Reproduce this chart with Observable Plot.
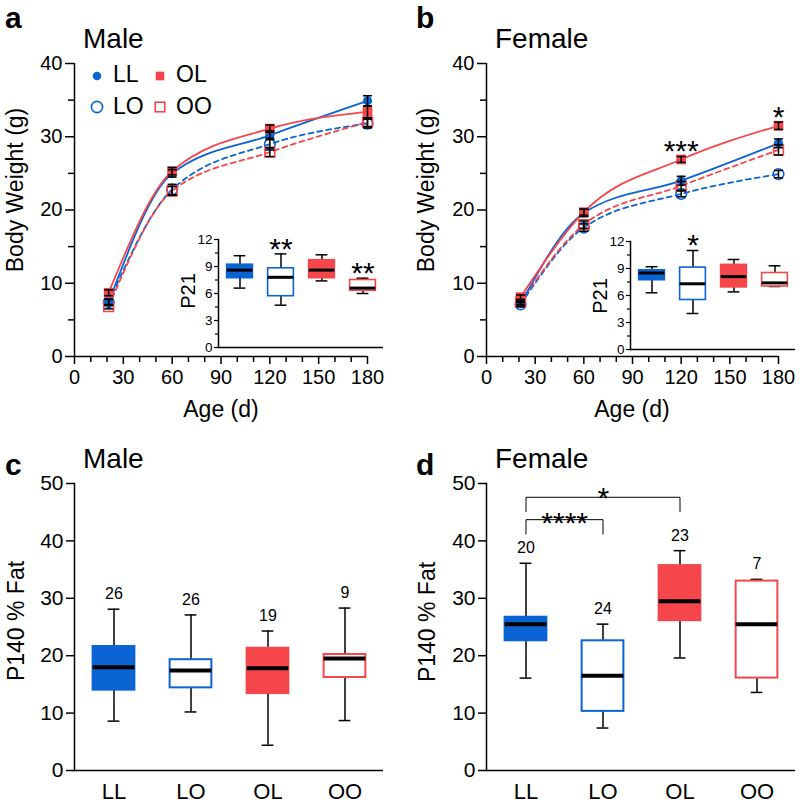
<!DOCTYPE html>
<html><head><meta charset="utf-8">
<script src="https://cdn.jsdelivr.net/npm/d3@7"></script>
<script src="https://cdn.jsdelivr.net/npm/@observablehq/plot@0.6"></script>
<style>
body{margin:0;background:#fff;}
#root{position:relative;width:800px;height:803px;overflow:hidden;font-family:"Liberation Sans",Arial,Helvetica,sans-serif;}
.pane{position:absolute;}
.pane svg{overflow:visible;}
</style></head><body><div id="root"></div>
<script>
const BLUE = "#0b64d3", RED = "#f5474b";
const FONT = '"Liberation Sans", Arial, Helvetica, sans-serif';

// ---- shared categories ----
const groups = ["LL", "LO", "OL", "OO"];
const ages = [21, 60, 120, 180];

// ---- panel a: male body weight (g), mean and SEM ----
const maleLL = [7.4, 25.0, 30.2, 34.9];
const maleLO = [7.4, 22.8, 29.0, 31.8];
const maleOL = [8.7, 25.3, 31.1, 33.4];
const maleOO = [6.8, 22.6, 27.9, 32.0];
const maleLLsem = [0.4, 0.5, 0.6, 0.7];
const maleLOsem = [0.4, 0.7, 0.8, 0.6];
const maleOLsem = [0.4, 0.5, 0.5, 0.8];
const maleOOsem = [0.3, 0.6, 0.6, 0.6];

// ---- panel b: female body weight (g), mean and SEM ----
const femaleLL = [7.2, 19.6, 24.0, 29.1];
const femaleLO = [7.1, 17.6, 22.2, 24.9];
const femaleOL = [8.1, 19.7, 26.9, 31.5];
const femaleOO = [7.4, 18.0, 23.3, 28.2];
const femaleLLsem = [0.3, 0.5, 0.6, 0.6];
const femaleLOsem = [0.3, 0.5, 0.4, 0.5];
const femaleOLsem = [0.3, 0.4, 0.4, 0.5];
const femaleOOsem = [0.3, 0.5, 0.6, 0.7];

// significance stars on growth curves (age, label)
const maleGrowthStars = [];
const femaleGrowthStars = [{age: 120, label: "***"}, {age: 180, label: "*"}];

// ---- insets: P21 body weight box plots (whisker low, Q1, median, Q3, whisker high) ----
const p21MaleLow = [6.6, 4.7, 7.4, 6.0];
const p21MaleQ1 = [7.7, 5.7, 7.7, 6.3];
const p21MaleMed = [8.6, 7.8, 8.6, 6.6];
const p21MaleQ3 = [9.2, 8.8, 9.7, 7.5];
const p21MaleHigh = [10.2, 10.4, 10.3, 7.7];
const p21MaleStars = ["", "**", "", "**"];

const p21FemaleLow = [6.3, 4.0, 6.4, 7.0];
const p21FemaleQ1 = [7.7, 5.5, 6.9, 7.0];
const p21FemaleMed = [8.5, 7.3, 8.1, 7.4];
const p21FemaleQ3 = [8.8, 9.1, 9.4, 8.5];
const p21FemaleHigh = [9.2, 11.0, 10.0, 9.3];
const p21FemaleStars = ["", "*", "", ""];

// ---- panel c: male P140 % fat ----
const fatMaleLow = [8.6, 10.2, 4.4, 8.7];
const fatMaleQ1 = [14.0, 14.4, 13.4, 16.2];
const fatMaleMed = [18.0, 17.4, 17.8, 19.5];
const fatMaleQ3 = [21.6, 19.3, 21.3, 20.2];
const fatMaleHigh = [28.1, 27.1, 24.3, 28.3];
const fatMaleN = [26, 26, 19, 9];

// ---- panel d: female P140 % fat ----
const fatFemaleLow = [16.1, 7.4, 19.6, 13.6];
const fatFemaleQ1 = [22.6, 10.3, 26.1, 16.1];
const fatFemaleMed = [25.5, 16.5, 29.5, 25.5];
const fatFemaleQ3 = [26.7, 22.6, 35.7, 33.0];
const fatFemaleHigh = [36.1, 25.5, 38.3, 33.3];
const fatFemaleN = [20, 24, 23, 7];
const fatFemaleComparisons = [
  {from: "LL", to: "OL", level: 47.6, label: "*"},
  {from: "LL", to: "LO", level: 43.7, label: "****"}
];

// ---- styling per group ----
const gStyle = {
  LL: {color: BLUE, filled: true, symbol: "circle", dash: null},
  LO: {color: BLUE, filled: false, symbol: "circle", dash: "5,4"},
  OL: {color: RED, filled: true, symbol: "square", dash: null},
  OO: {color: RED, filled: false, symbol: "square", dash: "5,4"}
};

const capSymbol = {draw(ctx, size) { const w = Math.sqrt(size / Math.PI); ctx.moveTo(-w, 0); ctx.lineTo(w, 0); }};

function growthRows(means, sems) {
  const rows = [];
  for (const g of groups) ages.forEach((a, i) => rows.push({group: g, age: a, mean: means[g][i], sem: sems[g][i]}));
  return rows;
}
function boxRows(low, q1, med, q3, high, extra) {
  return groups.map((g, i) => ({group: g, low: low[i], q1: q1[i], med: med[i], q3: q3[i], high: high[i], extra: extra ? extra[i] : ""}));
}

const root = document.getElementById("root");
function place(node, left, top, w, h) {
  const d = document.createElement("div");
  d.className = "pane";
  d.style.left = left + "px"; d.style.top = top + "px"; d.style.width = w + "px"; d.style.height = h + "px";
  d.appendChild(node);
  root.appendChild(d);
}

function growthPanel(rows, stars, ml, mr) {
  const marks = [];
  for (const g of ["LO", "OO", "LL", "OL"]) {
    const s = gStyle[g];
    marks.push(Plot.line(rows.filter(d => d.group === g), {x: "age", y: "mean", stroke: s.color, strokeWidth: 1.8, strokeDasharray: s.dash || undefined, curve: "monotone-x"}));
  }
  for (const g of ["LO", "OO", "LL", "OL"]) {
    const s = gStyle[g];
    const r = s.symbol === "circle" ? (s.filled ? 4.6 : 5.3) : 5.5;
    marks.push(Plot.dot(rows.filter(d => d.group === g), {x: "age", y: "mean", r, symbol: s.symbol,
      fill: s.filled ? s.color : "none", stroke: s.filled ? "none" : s.color, strokeWidth: 1.6}));
  }
  marks.push(Plot.ruleX(rows, {x: "age", y1: d => d.mean - d.sem, y2: d => d.mean + d.sem, stroke: "black", strokeWidth: 1.5}));
  marks.push(Plot.dot(rows, {x: "age", y: d => d.mean + d.sem, symbol: capSymbol, r: 4.5, stroke: "black", strokeWidth: 1.5, fill: "none"}));
  marks.push(Plot.dot(rows, {x: "age", y: d => d.mean - d.sem, symbol: capSymbol, r: 4.5, stroke: "black", strokeWidth: 1.5, fill: "none"}));
  const olMean = a => rows.find(d => d.group === "OL" && d.age === a).mean;
  marks.push(Plot.text(stars, {x: "age", y: d => olMean(d.age), text: "label", fontSize: 30, dy: -8.5, lineAnchor: "middle", fill: "black"}));
  marks.push(
    Plot.axisY({ticks: [0, 10, 20, 30, 40], tickSize: 9, tickPadding: 3, fontSize: 20, strokeWidth: 1.5, label: null}),
    Plot.axisY({ticks: [5, 15, 25, 35], tickSize: 6, tickFormat: () => "", strokeWidth: 1.5, label: null}),
    Plot.axisX({ticks: d3.range(0, 181, 30), tickSize: 8, tickPadding: 5, fontSize: 20, strokeWidth: 1.5, label: null}),
    Plot.axisX({ticks: d3.range(10, 181, 10).filter(v => v % 30), tickSize: 6, tickFormat: () => "", strokeWidth: 1.5, label: null}),
    Plot.ruleX([0], {stroke: "black", strokeWidth: 1.5}),
    Plot.ruleY([0], {stroke: "black", strokeWidth: 1.5})
  );
  return Plot.plot({
    width: 400, height: 400, marginLeft: ml, marginRight: mr, marginTop: 63, marginBottom: 44,
    x: {domain: [0, 180]}, y: {domain: [0, 40]},
    style: {fontFamily: FONT, background: "transparent", color: "black"},
    marks
  });
}

function boxMarks(rows, bandStep, boxW, capW, medW, frameW) {
  const inset = (bandStep - boxW) / 2, capInset = (bandStep - capW) / 2;
  return [
    Plot.ruleX(rows, {x: "group", y1: "low", y2: "high", stroke: "black", strokeWidth: 1.5}),
    Plot.tickY(rows, {x: "group", y: "high", stroke: "black", strokeWidth: 1.5, insetLeft: capInset, insetRight: capInset}),
    Plot.tickY(rows, {x: "group", y: "low", stroke: "black", strokeWidth: 1.5, insetLeft: capInset, insetRight: capInset}),
    Plot.barY(rows, {x: "group", y1: "q1", y2: "q3", insetLeft: inset, insetRight: inset,
      fill: d => gStyle[d.group].filled ? gStyle[d.group].color : "white",
      stroke: d => gStyle[d.group].color, strokeWidth: frameW}),
    Plot.tickY(rows, {x: "group", y: "med", stroke: "black", strokeWidth: medW, insetLeft: inset, insetRight: inset})
  ];
}

function insetPanel(rows) {
  const ml = 42, mr = 3, w = 210;
  const step = (w - ml - mr) / 4;
  return Plot.plot({
    width: w, height: 128, marginLeft: ml, marginRight: mr, marginTop: 14, marginBottom: 6,
    x: {type: "band", domain: groups, padding: 0, axis: null},
    y: {domain: [0, 12]},
    style: {fontFamily: FONT, background: "transparent", color: "black"},
    marks: [
      ...boxMarks(rows, step, 26, 12, 3, 1.6),
      Plot.text(rows, {x: "group", y: "high", text: "extra", fontSize: 30, dy: -5, lineAnchor: "middle"}),
      Plot.axisY({ticks: [0, 3, 6, 9, 12], tickSize: 4, tickPadding: 2, fontSize: 13.5, strokeWidth: 1.2, label: null}),
      Plot.axisY({ticks: [1.5, 4.5, 7.5, 10.5], tickSize: 3, tickFormat: () => "", strokeWidth: 1.2, label: null}),
      Plot.frame({anchor: "left", stroke: "black", strokeWidth: 1.5}),
      Plot.ruleY([0], {stroke: "black", strokeWidth: 1.5})
    ]
  });
}

function fatPanel(rows, comparisons, ml, mr) {
  const w = 400;
  const step = (w - ml - mr) / 4;
  const marks = [...boxMarks(rows, step, 42, 12, 4, 2)];
  marks.push(Plot.text(rows, {x: "group", y: "high", text: "extra", fontSize: 16, dy: -15, lineAnchor: "middle"}));
  for (const c of comparisons) {
    const drop = 2.5;
    const pts = [{g: c.from, y: c.level - drop}, {g: c.from, y: c.level}, {g: c.to, y: c.level}, {g: c.to, y: c.level - drop}];
    marks.push(Plot.line(pts, {x: "g", y: "y", stroke: "black", strokeWidth: 1}));
    const shift = (groups.indexOf(c.to) - groups.indexOf(c.from)) * step / 2;
    marks.push(Plot.text([c], {x: "from", y: "level", text: "label", fontSize: 30, dx: shift, dy: c.label.length > 1 ? 4 : 1, lineAnchor: "middle"}));
  }
  marks.push(
    Plot.axisY({ticks: [0, 10, 20, 30, 40, 50], tickSize: 8, tickPadding: 3, fontSize: 21, strokeWidth: 1.5, label: null}),
    Plot.axisX({tickSize: 0, tickPadding: 13, fontSize: 22, label: null}),
    Plot.frame({anchor: "left", stroke: "black", strokeWidth: 1.5}),
    Plot.ruleY([0], {stroke: "black", strokeWidth: 1.5})
  );
  return Plot.plot({
    width: w, height: 403, marginLeft: ml, marginRight: mr, marginTop: 83, marginBottom: 33,
    x: {type: "band", domain: groups, padding: 0},
    y: {domain: [0, 50]},
    style: {fontFamily: FONT, background: "transparent", color: "black"},
    marks
  });
}

const maleRows = growthRows({LL: maleLL, LO: maleLO, OL: maleOL, OO: maleOO}, {LL: maleLLsem, LO: maleLOsem, OL: maleOLsem, OO: maleOOsem});
const femaleRows = growthRows({LL: femaleLL, LO: femaleLO, OL: femaleOL, OO: femaleOO}, {LL: femaleLLsem, LO: femaleLOsem, OL: femaleOLsem, OO: femaleOOsem});

place(growthPanel(maleRows, maleGrowthStars, 74, 33), 0, 0, 400, 400);
place(growthPanel(femaleRows, femaleGrowthStars, 86, 22), 400, 0, 400, 400);
place(insetPanel(boxRows(p21MaleLow, p21MaleQ1, p21MaleMed, p21MaleQ3, p21MaleHigh, p21MaleStars)), 176, 225, 210, 128);
place(insetPanel(boxRows(p21FemaleLow, p21FemaleQ1, p21FemaleMed, p21FemaleQ3, p21FemaleHigh, p21FemaleStars)), 588, 227, 210, 128);
place(fatPanel(boxRows(fatMaleLow, fatMaleQ1, fatMaleMed, fatMaleQ3, fatMaleHigh, fatMaleN), [], 74, 17), 0, 400, 400, 403);
place(fatPanel(boxRows(fatFemaleLow, fatFemaleQ1, fatFemaleMed, fatFemaleQ3, fatFemaleHigh, fatFemaleN), fatFemaleComparisons, 86, 5), 400, 400, 400, 403);

// ---- overlay: panel letters, titles, axis titles, legend ----
const NS = "http://www.w3.org/2000/svg";
const ov = document.createElementNS(NS, "svg");
ov.setAttribute("width", 800); ov.setAttribute("height", 803);
ov.style.position = "absolute"; ov.style.left = "0"; ov.style.top = "0"; ov.style.pointerEvents = "none";
ov.style.fontFamily = FONT;
root.appendChild(ov);
function txt(s, x, y, size, opts = {}) {
  const t = document.createElementNS(NS, "text");
  t.textContent = s;
  t.setAttribute("x", x); t.setAttribute("y", y);
  t.setAttribute("font-size", size);
  if (opts.bold) t.setAttribute("font-weight", "bold");
  if (opts.anchor) t.setAttribute("text-anchor", opts.anchor);
  if (opts.rotate) t.setAttribute("transform", `rotate(-90 ${x} ${y})`);
  ov.appendChild(t);
}
const panelLetters = [["a", 5, 28], ["b", 416, 28], ["c", 5, 475], ["d", 416, 475]];
panelLetters.forEach(([s, x, y]) => txt(s, x, y, 30, {bold: true}));
const panelTitles = [["Male", 83, 48], ["Female", 495, 48], ["Male", 83, 468], ["Female", 495, 468]];
panelTitles.forEach(([s, x, y]) => txt(s, x, y, 28));
txt("Body Weight (g)", 23, 190, 23, {anchor: "middle", rotate: true});
txt("Body Weight (g)", 434, 190, 23, {anchor: "middle", rotate: true});
txt("Age (d)", 221, 417, 23, {anchor: "middle"});
txt("Age (d)", 632, 417, 23, {anchor: "middle"});
txt("P140 % Fat", 24, 621, 23, {anchor: "middle", rotate: true});
txt("P140 % Fat", 435, 622, 23, {anchor: "middle", rotate: true});
txt("P21", 195, 291, 20, {anchor: "middle", rotate: true});
txt("P21", 607, 296, 20, {anchor: "middle", rotate: true});

// legend (panel a)
const legendItems = [["LL", 97, 76], ["OL", 160, 76], ["LO", 97, 107], ["OO", 160, 107]];
legendItems.forEach(([g, x, y]) => {
  const s = gStyle[g];
  let m;
  if (s.symbol === "circle") {
    m = document.createElementNS(NS, "circle");
    m.setAttribute("cx", x); m.setAttribute("cy", y); m.setAttribute("r", s.filled ? 4.3 : 5.6);
  } else {
    m = document.createElementNS(NS, "rect");
    const h = s.filled ? 4.3 : 4.8;
    m.setAttribute("x", x - h); m.setAttribute("y", y - h); m.setAttribute("width", 2 * h); m.setAttribute("height", 2 * h);
  }
  m.setAttribute("fill", s.filled ? s.color : "none");
  m.setAttribute("stroke", s.filled ? "none" : s.color);
  m.setAttribute("stroke-width", 1.6);
  ov.appendChild(m);
  txt(g, x + 16, y + 6 + (y > 100 ? 0.5 : 0), 23);
});
</script></body></html>
